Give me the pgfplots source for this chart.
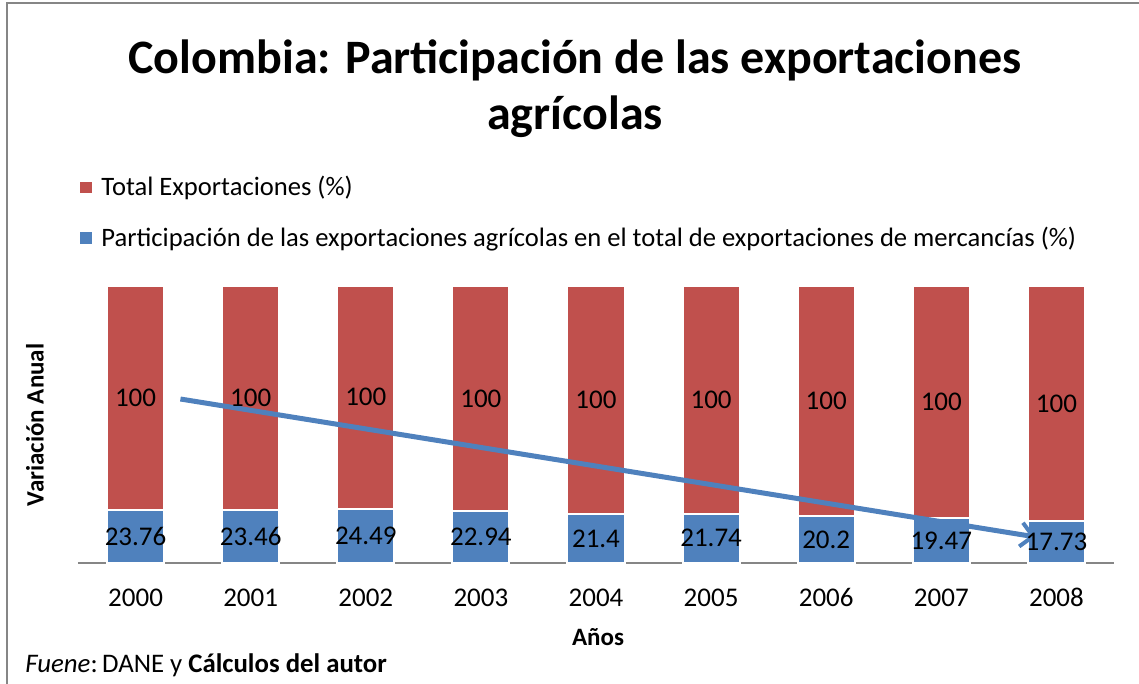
\documentclass[border=0pt]{standalone}
\usepackage{fontspec}
\setmainfont{Carlito}
\usepackage{pgfplots}
\usepackage{pgfplotstable}
\pgfplotsset{compat=1.18}
\usetikzlibrary{arrows.meta}

\definecolor{redbar}{RGB}{192,80,77}
\definecolor{bluebar}{RGB}{79,129,189}
\definecolor{framegray}{RGB}{134,134,134}

% agri = participacion agricola (%), total = total exportaciones (%)
\pgfplotstableread{
idx year agri  total
0   2000 23.76 100
1   2001 23.46 100
2   2002 24.49 100
3   2003 22.94 100
4   2004 21.4  100
5   2005 21.74 100
6   2006 20.2  100
7   2007 19.47 100
8   2008 17.73 100
}\datatable

\pgfplotsset{
  base/.style={
    scale only axis, width=518pt, height=138.5pt,
    xmin=-0.5, xmax=8.5, ymin=0, ymax=100,
    clip=false,
  },
}

\begin{document}
\begin{tikzpicture}
\path[use as bounding box] (-39pt,-60.5pt) rectangle (530.5pt,281.5pt);
% frame of the chart area
\draw[framegray, line width=1pt] (-35.5pt,-61pt) -- (-35.5pt,280pt) -- (531pt,280pt);

\begin{axis}[base,
    ybar stacked, bar width=28.5pt,
    axis x line*=bottom, hide y axis,
    x axis line style={framegray, line width=0.75pt},
    xtick={0,...,8}, major tick length=0pt,
    xticklabels from table={\datatable}{year},
    xticklabel style={font=\fontsize{13.5}{16}\selectfont, yshift=-9.5pt,
      text height=8.7pt, text depth=0pt},
    every axis plot post/.append style={
      legend image code/.code={\fill[##1] (0pt,-3.3pt) rectangle (6.6pt,3.3pt);
        \path (8.5pt,0pt);}},
    reverse legend,
    legend cell align=left,
    legend style={draw=none, fill=none, at={(rel axis cs:0,1)}, anchor=north west,
      xshift=-3pt, yshift=59pt, row sep=10pt,
      font=\fontsize{13.3}{15}\selectfont},
  ]
  \addplot[fill=bluebar, draw=white, line width=1pt]
    table[x=idx, y expr=\thisrow{agri}/(\thisrow{agri}+\thisrow{total})*100] {\datatable};
  \addplot[fill=redbar, draw=white, line width=1pt]
    table[x=idx, y expr=\thisrow{total}/(\thisrow{agri}+\thisrow{total})*100] {\datatable};
  \legend{Participación de las exportaciones agrícolas en el total de exportaciones de mercancías (\%),
          Total Exportaciones (\%)}
\end{axis}

\begin{axis}[base, hide axis,
    nodes near coords, point meta=explicit symbolic,
    every node near coord/.append style={anchor=center, text=black,
      font=\fontsize{13.5}{16}\selectfont, text height=8.7pt, text depth=0pt},
  ]
  \addplot[draw=none]
    table[x=idx, y expr=\thisrow{agri}/(\thisrow{agri}+\thisrow{total})*50, meta=agri] {\datatable};
  \addplot[draw=none]
    table[x=idx, y expr=50+\thisrow{agri}/(\thisrow{agri}+\thisrow{total})*50, meta=total] {\datatable};
  % tendencia
  \addplot[bluebar, line width=2.5pt, nodes near coords={},
    -{Straight Barb[length=6pt, width=12pt, line width=2pt]}]
    coordinates {(0.39,59.2) (7.82,9.4)};
\end{axis}

\node[align=center, font=\bfseries\fontsize{24}{28}\selectfont] at (248.5pt,237pt)
  {Colombia: Participación de las exportaciones\\agrícolas};
\node[rotate=90, font=\bfseries\fontsize{12.5}{15}\selectfont] at (-21.5pt,69pt) {Variación Anual};
\node[font=\bfseries\fontsize{12.5}{15}\selectfont] at (260pt,-37pt) {Años};
\node[anchor=west, inner sep=0pt, font=\fontsize{13.4}{15}\selectfont] at (-26.5pt,-51pt)
  {\textit{Fuene}:\,DANE y \textbf{Cálculos del autor}};
\end{tikzpicture}
\end{document}
